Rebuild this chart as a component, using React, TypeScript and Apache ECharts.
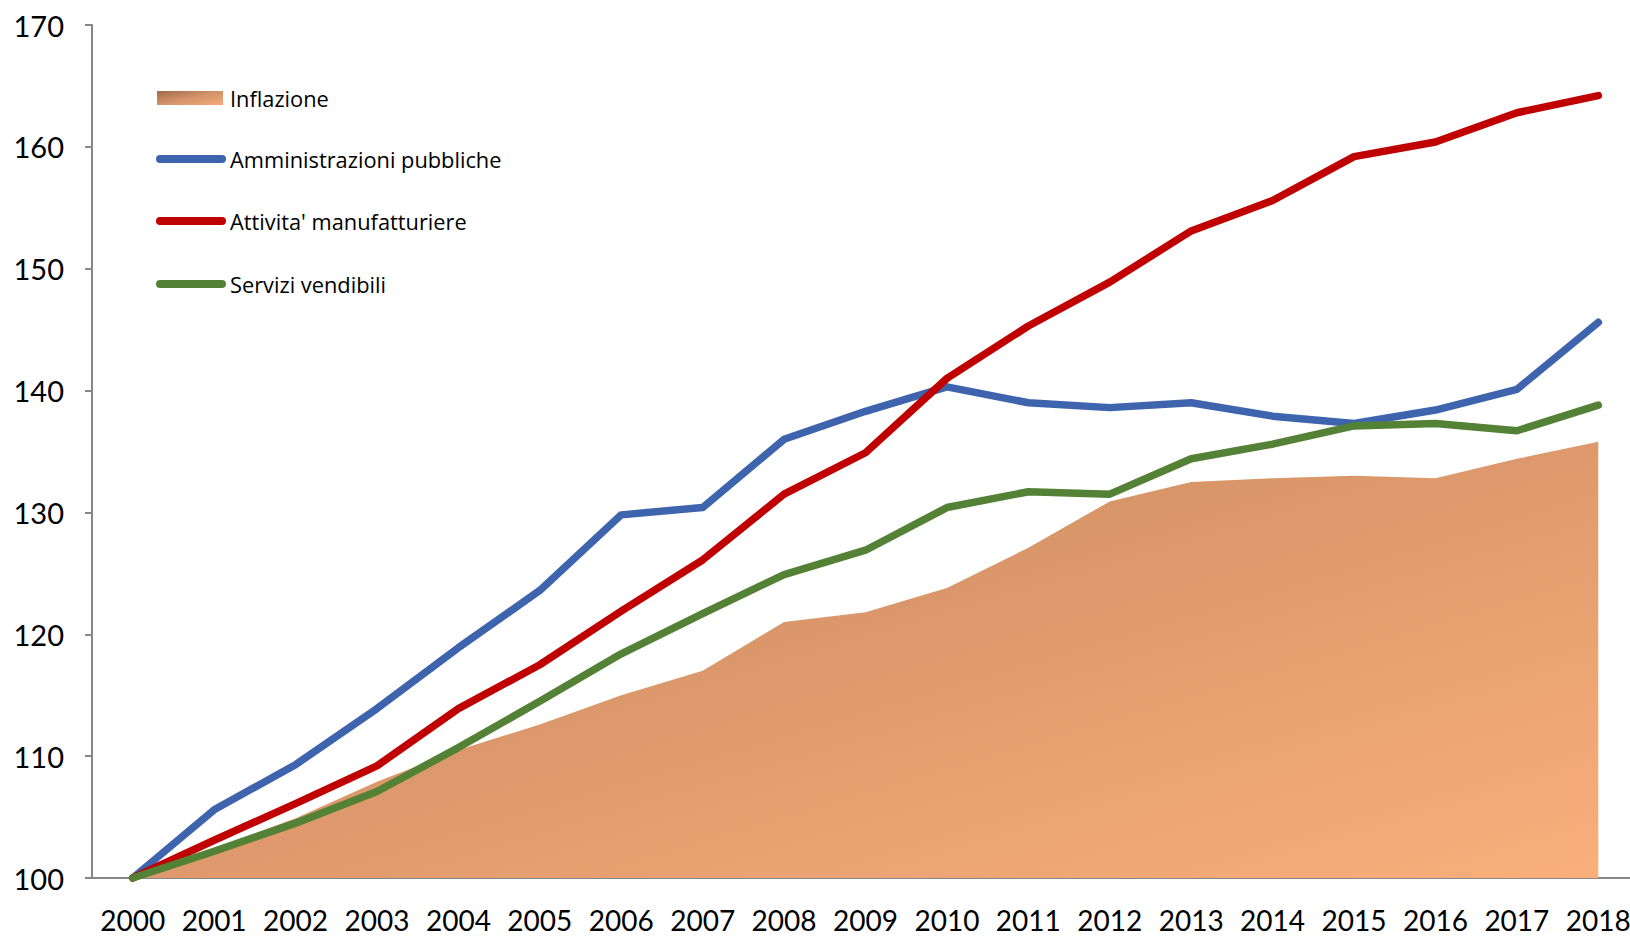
import React, { useEffect, useRef } from "react";
import * as echarts from "echarts";

const years = ["2000","2001","2002","2003","2004","2005","2006","2007","2008","2009","2010","2011","2012","2013","2014","2015","2016","2017","2018"];
const inflazione = [100,102.4,104.9,107.9,110.5,112.6,115.0,117.0,121.0,121.8,123.8,127.1,130.9,132.5,132.8,133.0,132.8,134.4,135.8];
const amministrazioni = [100,105.6,109.3,113.9,118.9,123.6,129.8,130.4,136.0,138.3,140.3,139.0,138.6,139.0,137.9,137.3,138.4,140.1,145.6];
const manifatturiere = [100,103.1,106.1,109.2,113.9,117.5,121.9,126.1,131.5,134.9,141.0,145.3,148.9,153.1,155.6,159.2,160.4,162.8,164.2];
const servizi = [100,102.2,104.5,107.1,110.7,114.5,118.4,121.7,124.9,126.9,130.4,131.7,131.5,134.4,135.6,137.1,137.3,136.7,138.8];
const legendNames = ["Inflazione","Amministrazioni pubbliche","Attivita' manufatturiere","Servizi vendibili"];

const FONT = "Lato, 'Noto Sans', sans-serif";
const LEGEND_FONT = "'Open Sans', Lato, sans-serif";
const BLUE = "#3E64AE";
const RED = "#C00000";
const GREEN = "#538135";

export default function App() {
  const ref = useRef<HTMLDivElement>(null);
  useEffect(() => {
    if (!ref.current) return;
    const chart = echarts.init(ref.current, null, { renderer: "svg" });
    const lineSeries = (name: string, data: number[], color: string) => ({
      name,
      type: "line",
      data,
      symbol: "none",
      lineStyle: { color, width: 7.5, cap: "round", join: "round" },
      itemStyle: { color },
      z: 3,
    });
    const legendY = [98, 159, 221, 284];
    const legendColors = [null, BLUE, RED, GREEN];
    const graphics: any[] = [];
    legendNames.forEach((n, i) => {
      const y = legendY[i];
      if (i === 0) {
        graphics.push({
          type: "rect",
          shape: { x: 157, y: y - 7, width: 66, height: 14 },
          style: {
            fill: new echarts.graphic.LinearGradient(0, 0, 1, 1, [
              { offset: 0, color: "#9C6A4A" },
              { offset: 0.5, color: "#D3936A" },
              { offset: 1, color: "#F6AB7B" },
            ]),
          },
        });
      } else {
        graphics.push({
          type: "line",
          shape: { x1: 160, y1: y, x2: 222, y2: y },
          style: { stroke: legendColors[i], lineWidth: 8, lineCap: "round" },
        });
      }
      graphics.push({
        type: "text",
        x: 230,
        y,
        style: { text: n, font: `21.8px ${LEGEND_FONT}`, fill: "#000", verticalAlign: "middle" },
      });
    });
    chart.setOption({
      animation: false,
      grid: { left: 92, right: 1, top: 25, bottom: 59 },
      xAxis: {
        type: "category",
        data: years,
        boundaryGap: true,
        axisLine: { lineStyle: { color: "#868686", width: 2 } },
        axisTick: { show: false },
        axisLabel: { color: "#000", fontSize: 28, fontFamily: FONT, margin: 28, interval: 0 },
      },
      yAxis: {
        type: "value",
        min: 100,
        max: 170,
        interval: 10,
        splitLine: { show: false },
        axisLine: { show: true, lineStyle: { color: "#868686", width: 2 } },
        axisTick: { show: true, length: 7, lineStyle: { color: "#868686", width: 2 } },
        axisLabel: { color: "#000", fontSize: 29, fontFamily: FONT, margin: 28 },
      },
      series: [
        {
          name: "Inflazione",
          type: "line",
          data: inflazione,
          symbol: "none",
          lineStyle: { width: 0 },
          areaStyle: {
            opacity: 1,
            color: new echarts.graphic.LinearGradient(0, 0, 1, 1, [
              { offset: 0, color: "#C1845B" },
              { offset: 1, color: "#FAAF7C" },
            ]),
          },
          z: 2,
        },
        lineSeries("Amministrazioni pubbliche", amministrazioni, BLUE),
        lineSeries("Attivita' manufatturiere", manifatturiere, RED),
        lineSeries("Servizi vendibili", servizi, GREEN),
      ],
      graphic: graphics,
    });
    return () => chart.dispose();
  }, []);
  return (
    <div style={{ position: "fixed", left: 0, top: 0, width: 1630, height: 937, overflow: "hidden", background: "#fff" }}>
      <div ref={ref} style={{ width: 1640, height: 937 }} />
    </div>
  );
}
